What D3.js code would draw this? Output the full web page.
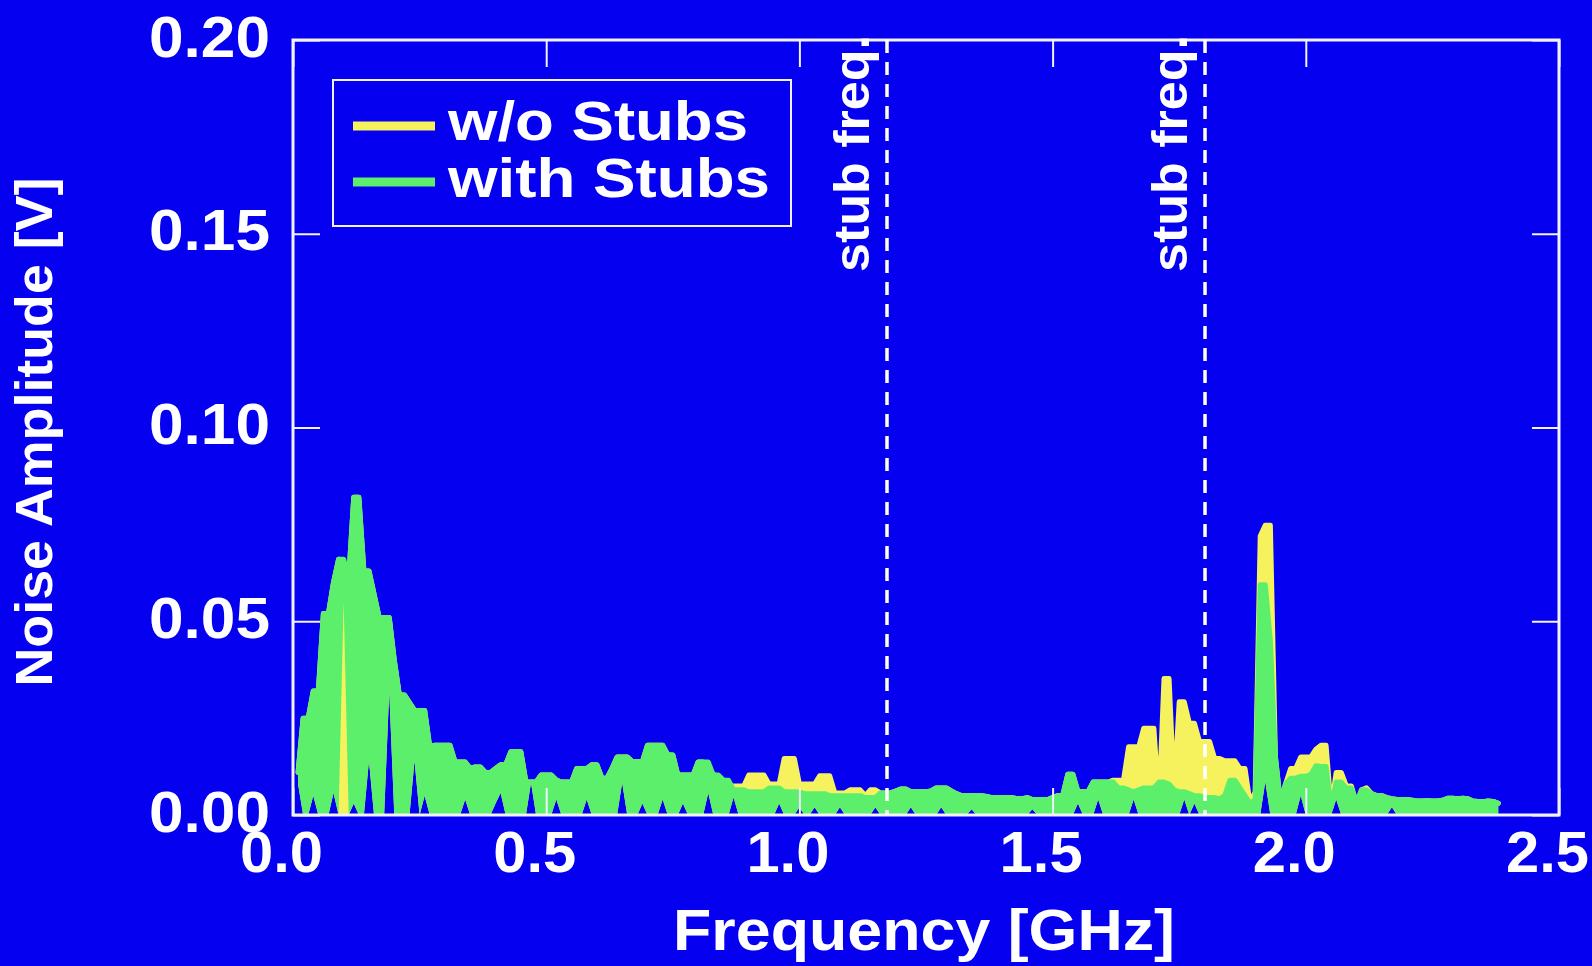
<!DOCTYPE html>
<html>
<head>
<meta charset="utf-8">
<script src="https://cdn.jsdelivr.net/npm/d3@7"></script>
<style>
  html, body { margin: 0; padding: 0; background: #0500ef; overflow: hidden; }
  svg { display: block; }
  text { font-family: "Liberation Sans", Arial, Helvetica, sans-serif; font-weight: bold; fill: #ffffff; }
</style>
</head>
<body>
<svg id="chart" width="1592" height="966"></svg>
<script>
// ---- data ----
// Frequency bins [GHz]
const freqGHz = [
0.01,0.02,0.03,0.04,0.05,0.06,0.07,0.08,0.09,0.10,
0.11,0.12,0.13,0.14,0.15,0.16,0.17,0.18,0.19,0.20,
0.21,0.22,0.23,0.24,0.25,0.26,0.27,0.28,0.29,0.30,
0.31,0.32,0.33,0.34,0.35,0.36,0.37,0.38,0.39,0.40,
0.41,0.42,0.43,0.44,0.45,0.46,0.47,0.48,0.49,0.50,
0.51,0.52,0.53,0.54,0.55,0.56,0.57,0.58,0.59,0.60,
0.61,0.62,0.63,0.64,0.65,0.66,0.67,0.68,0.69,0.70,
0.71,0.72,0.73,0.74,0.75,0.76,0.77,0.78,0.79,0.80,
0.81,0.82,0.83,0.84,0.85,0.86,0.87,0.88,0.89,0.90,
0.91,0.92,0.93,0.94,0.95,0.96,0.97,0.98,0.99,1.00,
1.01,1.02,1.03,1.04,1.05,1.06,1.07,1.08,1.09,1.10,
1.11,1.12,1.13,1.14,1.15,1.16,1.17,1.18,1.19,1.20,
1.21,1.22,1.23,1.24,1.25,1.26,1.27,1.28,1.29,1.30,
1.31,1.32,1.33,1.34,1.35,1.36,1.37,1.38,1.39,1.40,
1.41,1.42,1.43,1.44,1.45,1.46,1.47,1.48,1.49,1.50,
1.51,1.52,1.53,1.54,1.55,1.56,1.57,1.58,1.59,1.60,
1.61,1.62,1.63,1.64,1.65,1.66,1.67,1.68,1.69,1.70,
1.71,1.72,1.73,1.74,1.75,1.76,1.77,1.78,1.79,1.80,
1.81,1.82,1.83,1.84,1.85,1.86,1.87,1.88,1.89,1.90,
1.91,1.92,1.93,1.94,1.95,1.96,1.97,1.98,1.99,2.00,
2.01,2.02,2.03,2.04,2.05,2.06,2.07,2.08,2.09,2.10,
2.11,2.12,2.13,2.14,2.15,2.16,2.17,2.18,2.19,2.20,
2.21,2.22,2.23,2.24,2.25,2.26,2.27,2.28,2.29,2.30,
2.31,2.32,2.33,2.34,2.35,2.36,2.37,2.38
];

// w/o Stubs (yellow): upper and lower extent of the noisy trace in each bin [V]
const woStubsMax = [
0.011,0.025,0.025,0.032,0.032,0.052,0.052,0.060,0.066,0.062,
0.061,0.082,0.082,0.063,0.063,0.057,0.051,0.051,0.051,0.040,
0.031,0.031,0.029,0.027,0.027,0.027,0.0176,0.018,0.018,0.018,
0.018,0.0137,0.0137,0.0137,0.012,0.0124,0.0124,0.011,0.011,0.012,
0.013,0.013,0.0163,0.0163,0.0163,0.0085,0.0085,0.0085,0.0103,0.0103,
0.0103,0.009,0.0085,0.0085,0.0085,0.012,0.012,0.012,0.013,0.013,
0.0095,0.0095,0.012,0.015,0.015,0.015,0.0138,0.0138,0.0138,0.018,
0.018,0.018,0.018,0.0155,0.0155,0.0103,0.0103,0.0103,0.0103,0.0137,
0.0137,0.0106,0.0106,0.008,0.008,0.0075,0.0075,0.0075,0.0075,0.0103,
0.0103,0.0103,0.0103,0.008,0.008,0.008,0.0146,0.0146,0.0146,0.008,
0.008,0.008,0.008,0.0101,0.0101,0.0101,0.0057,0.0057,0.0057,0.0065,
0.0065,0.0065,0.005,0.0065,0.0065,0.0057,0.0057,0.0057,0.0062,0.0067,
0.0067,0.006,0.006,0.006,0.006,0.0062,0.007,0.007,0.007,0.0062,
0.0055,0.005,0.005,0.005,0.005,0.005,0.0048,0.0045,0.0045,0.0045,
0.0045,0.0045,0.0042,0.0042,0.0045,0.004,0.004,0.004,0.004,0.0045,
0.005,0.005,0.0105,0.0105,0.006,0.006,0.006,0.0085,0.0085,0.0085,
0.0085,0.009,0.009,0.009,0.0176,0.0176,0.0176,0.0224,0.0224,0.0224,
0.003,0.0352,0.0352,0.006,0.0292,0.0292,0.0237,0.0237,0.019,0.019,
0.019,0.0146,0.0146,0.014,0.014,0.014,0.012,0.012,0.003,0.006,
0.072,0.0748,0.0748,0.015,0.003,0.008,0.012,0.012,0.015,0.015,
0.015,0.017,0.018,0.018,0.002,0.011,0.011,0.0075,0.0075,0.003,
0.0065,0.007,0.0055,0.005,0.005,0.0045,0.0042,0.004,0.004,0.004,
0.0038,0.0036,0.0036,0.0037,0.0036,0.0036,0.0038,0.0043,0.0043,0.0042,
0.0043,0.0042,0.0036,0.0035,0.0034,0.0036,0.0035,0.003
];
const woStubsMin = [
0.008,0,0,0.005,0,0,0,0.0057,0,0,
0,0.003,0,0,0.014,0,0,0,0.032,0,
0,0,0,0.014,0,0.005,0,0,0,0,
0,0,0,0.004,0,0,0,0,0,0.003,
0.0057,0,0,0,0,0,0.0083,0,0,0,
0,0.004,0,0,0,0,0,0.004,0,0,
0,0,0,0,0.0083,0,0,0,0.003,0,
0,0,0.004,0,0,0,0.003,0,0,0,
0,0.0057,0,0,0,0,0.0045,0,0,0,
0,0,0,0,0,0.003,0,0,0,0.002,
0,0,0.002,0,0,0,0,0.002,0,0,
0,0,0,0,0.002,0,0,0,0,0,
0,0.002,0,0,0,0,0,0.002,0,0,
0,0,0,0.0015,0,0,0,0,0,0,
0,0,0,0,0,0.0015,0,0,0,0,
0,0,0,0,0.003,0,0,0,0.004,0,
0,0,0,0,0,0.004,0,0,0,0,
0,0,0,0,0,0.004,0,0.003,0,0,
0,0,0,0,0,0,0,0,0,0,
0,0.0086,0,0,0,0,0,0,0.005,0,
0,0,0,0,0,0.004,0,0,0,0,
0,0,0,0,0,0,0.002,0,0,0,
0,0,0,0,0,0,0,0,0,0,
0,0,0,0,0,0,0,0
];

// with Stubs (green): upper and lower extent of the noisy trace in each bin [V]
const withStubsMax = [
0.011,0.025,0.025,0.032,0.032,0.052,0.052,0.060,0.066,0.066,
0.061,0.082,0.082,0.063,0.063,0.057,0.051,0.051,0.051,0.040,
0.031,0.031,0.029,0.027,0.027,0.027,0.0176,0.018,0.018,0.018,
0.018,0.0137,0.0137,0.0137,0.012,0.0124,0.0124,0.011,0.011,0.012,
0.013,0.013,0.0163,0.0163,0.0163,0.0085,0.0085,0.0085,0.0103,0.0103,
0.0103,0.009,0.0085,0.0085,0.0085,0.012,0.012,0.012,0.013,0.013,
0.0095,0.0095,0.012,0.015,0.015,0.015,0.0138,0.0138,0.0138,0.018,
0.018,0.018,0.018,0.0155,0.0155,0.0103,0.0103,0.0103,0.0103,0.0137,
0.0137,0.0137,0.0103,0.0103,0.009,0.009,0.0065,0.0065,0.0065,0.006,
0.006,0.006,0.006,0.007,0.007,0.007,0.006,0.006,0.006,0.006,
0.0055,0.0055,0.0055,0.0055,0.0055,0.005,0.005,0.005,0.005,0.005,
0.005,0.005,0.0045,0.0045,0.0045,0.0057,0.0057,0.0057,0.0062,0.0067,
0.0067,0.006,0.006,0.006,0.006,0.0062,0.007,0.007,0.007,0.0062,
0.0055,0.005,0.005,0.005,0.005,0.005,0.0048,0.0045,0.0045,0.0045,
0.0045,0.0045,0.0042,0.0042,0.0045,0.004,0.004,0.004,0.004,0.0045,
0.005,0.005,0.0105,0.0105,0.006,0.006,0.006,0.0085,0.0085,0.0085,
0.0085,0.0085,0.007,0.007,0.0065,0.006,0.0065,0.007,0.007,0.007,
0.0085,0.0085,0.008,0.0065,0.006,0.006,0.0055,0.005,0.005,0.0045,
0.0045,0.0045,0.0042,0.005,0.009,0.009,0.007,0.005,0.003,0.004,
0.0594,0.0594,0.045,0.015,0.003,0.008,0.0095,0.0095,0.010,0.010,
0.0105,0.0127,0.0125,0.0125,0.002,0.0085,0.0085,0.007,0.007,0.003,
0.0065,0.0065,0.0055,0.005,0.005,0.0045,0.0042,0.004,0.004,0.004,
0.0038,0.0036,0.0036,0.0037,0.0036,0.0036,0.0038,0.0043,0.0043,0.0042,
0.0043,0.0042,0.0036,0.0035,0.0034,0.0036,0.0035,0.003
];
const withStubsMin = [
0.008,0,0,0.005,0,0,0,0.0057,0,0.055,
0,0.003,0,0,0.014,0,0,0,0.032,0,
0,0,0,0.014,0,0.005,0,0,0,0,
0,0,0,0.004,0,0,0,0,0,0.003,
0.0057,0,0,0,0,0,0.0083,0,0,0,
0,0.004,0,0,0,0,0,0.004,0,0,
0,0,0,0,0.0083,0,0,0,0.003,0,
0,0,0.004,0,0,0,0.003,0,0,0,
0,0.0057,0,0,0,0,0.0045,0,0,0,
0,0,0,0,0,0.003,0,0,0,0.002,
0,0,0.002,0,0,0,0,0.002,0,0,
0,0,0,0,0.002,0,0,0,0,0,
0,0.002,0,0,0,0,0,0.002,0,0,
0,0,0,0.0015,0,0,0,0,0,0,
0,0,0,0,0,0.0015,0,0,0,0,
0,0,0,0,0.003,0,0,0,0.004,0,
0,0,0,0,0,0.004,0,0,0,0,
0,0,0,0,0,0.004,0,0.003,0,0,
0,0,0,0,0,0,0,0,0,0,
0,0.0086,0,0,0,0,0,0,0.005,0,
0,0,0,0,0,0.004,0,0,0,0,
0,0,0,0,0,0,0.002,0,0,0,
0,0,0,0,0,0,0,0,0,0,
0,0,0,0,0,0,0,0
];

const seriesNames = ["w/o Stubs", "with Stubs"];
const seriesColors = ["#f6f25e", "#5cef6c"];
const stubFreqs = [1.173, 1.801];
const stubLabel = "stub freq.";
const xTicks = [0.0, 0.5, 1.0, 1.5, 2.0, 2.5];
const yTicks = [0.00, 0.05, 0.10, 0.15, 0.20];
const xTitle = "Frequency [GHz]";
const yTitle = "Noise Amplitude [V]";

// ---- layout ----
const W = 1592, H = 966;
const plot = { left: 293, right: 1559, top: 40, bottom: 815 };
const frameColor = "#f2f2ff";

const svg = d3.select("#chart");
svg.append("rect").attr("width", W).attr("height", H).attr("fill", "#0500ef");

const x = d3.scaleLinear().domain([0, 2.5]).range([plot.left, plot.right]);
const y = d3.scaleLinear().domain([0, 0.2]).range([plot.bottom, plot.top]);

// ---- data traces (dense noisy traces drawn as their min/max extent) ----
const series = [
  { hi: woStubsMax, lo: woStubsMin, color: seriesColors[0] },
  { hi: withStubsMax, lo: withStubsMin, color: seriesColors[1] }
].map(s => ({ color: s.color, pts: freqGHz.map((f, i) => ({ f, hi: s.hi[i], lo: s.lo[i] })) }));

const area = d3.area().x(d => x(d.f)).y0(d => y(d.lo)).y1(d => y(d.hi));
const topLine = d3.line().x(d => x(d.f)).y(d => y(d.hi));

const gData = svg.append("g");
series.forEach(s => {
  gData.append("path").attr("d", area(s.pts)).attr("fill", s.color).attr("stroke", "none");
  gData.append("path").attr("d", topLine(s.pts))
    .attr("fill", "none").attr("stroke", s.color).attr("stroke-width", 5)
    .attr("stroke-linejoin", "round").attr("stroke-linecap", "round");
});

// ---- axes (inward ticks on all sides) ----
const tickLen = 27;
const gLeft = svg.append("g").attr("transform", `translate(${plot.left},0)`)
  .call(d3.axisLeft(y).tickValues(yTicks).tickFormat(d3.format(".2f")).tickSize(-tickLen).tickSizeOuter(0).tickPadding(23));
const gBottom = svg.append("g").attr("transform", `translate(0,${plot.bottom})`)
  .call(d3.axisBottom(x).tickValues(xTicks).tickFormat(d3.format(".1f")).tickSize(-tickLen).tickSizeOuter(0));
const gRight = svg.append("g").attr("transform", `translate(${plot.right},0)`)
  .call(d3.axisRight(y).tickValues(yTicks).tickFormat("").tickSize(-tickLen).tickSizeOuter(0));
const gTop = svg.append("g").attr("transform", `translate(0,${plot.top})`)
  .call(d3.axisTop(x).tickValues(xTicks).tickFormat("").tickSize(-tickLen).tickSizeOuter(0));

[gLeft, gBottom, gRight, gTop].forEach(g => {
  g.select(".domain").remove();
  g.selectAll(".tick line").attr("stroke", frameColor).attr("stroke-width", 2);
});

gLeft.selectAll(".tick text")
  .attr("fill", "#fff").attr("font-size", 57).attr("font-family", null)
  .attr("dy", null).attr("y", 16)
  .attr("textLength", 121).attr("lengthAdjust", "spacingAndGlyphs");
gBottom.selectAll(".tick text")
  .attr("fill", "#fff").attr("font-size", 58).attr("font-family", null)
  .attr("dy", null).attr("y", 57).attr("x", -12)
  .attr("textLength", 83).attr("lengthAdjust", "spacingAndGlyphs");

// ---- frame ----
svg.append("rect")
  .attr("x", plot.left).attr("y", plot.top)
  .attr("width", plot.right - plot.left).attr("height", plot.bottom - plot.top)
  .attr("fill", "none").attr("stroke", frameColor).attr("stroke-width", 3);

// ---- stub frequency markers ----
const stubs = svg.append("g").selectAll("g").data(stubFreqs).join("g");
stubs.append("line")
  .attr("x1", d => x(d)).attr("x2", d => x(d))
  .attr("y1", plot.top).attr("y2", plot.bottom)
  .attr("stroke", "#ffffff").attr("stroke-width", 3.5)
  .attr("stroke-dasharray", "13,9");
stubs.append("text")
  .attr("transform", d => `translate(${x(d) - 18},272) rotate(-90)`)
  .attr("text-anchor", "start")
  .attr("font-size", 50)
  .attr("textLength", 237).attr("lengthAdjust", "spacingAndGlyphs")
  .text(stubLabel);

// ---- axis titles ----
svg.append("text")
  .attr("transform", `translate(52,432) rotate(-90)`)
  .attr("text-anchor", "middle")
  .attr("font-size", 52)
  .attr("textLength", 509).attr("lengthAdjust", "spacingAndGlyphs")
  .text(yTitle);
svg.append("text")
  .attr("x", 924).attr("y", 950)
  .attr("text-anchor", "middle")
  .attr("font-size", 57)
  .attr("textLength", 502).attr("lengthAdjust", "spacingAndGlyphs")
  .text(xTitle);

// ---- legend ----
const legend = svg.append("g");
legend.append("rect")
  .attr("x", 333).attr("y", 80).attr("width", 458).attr("height", 146)
  .attr("fill", "none").attr("stroke", frameColor).attr("stroke-width", 2);
const legendRows = [
  { name: seriesNames[0], color: seriesColors[0], ly: 126, ty: 140, tl: 300 },
  { name: seriesNames[1], color: seriesColors[1], ly: 182, ty: 197, tl: 322 }
];
const lr = legend.selectAll("g").data(legendRows).join("g");
lr.append("line")
  .attr("x1", 353).attr("x2", 435)
  .attr("y1", d => d.ly).attr("y2", d => d.ly)
  .attr("stroke", d => d.color).attr("stroke-width", 9);
lr.append("text")
  .attr("x", 448).attr("y", d => d.ty)
  .attr("font-size", 56)
  .attr("textLength", d => d.tl).attr("lengthAdjust", "spacingAndGlyphs")
  .text(d => d.name);
</script>
</body>
</html>
